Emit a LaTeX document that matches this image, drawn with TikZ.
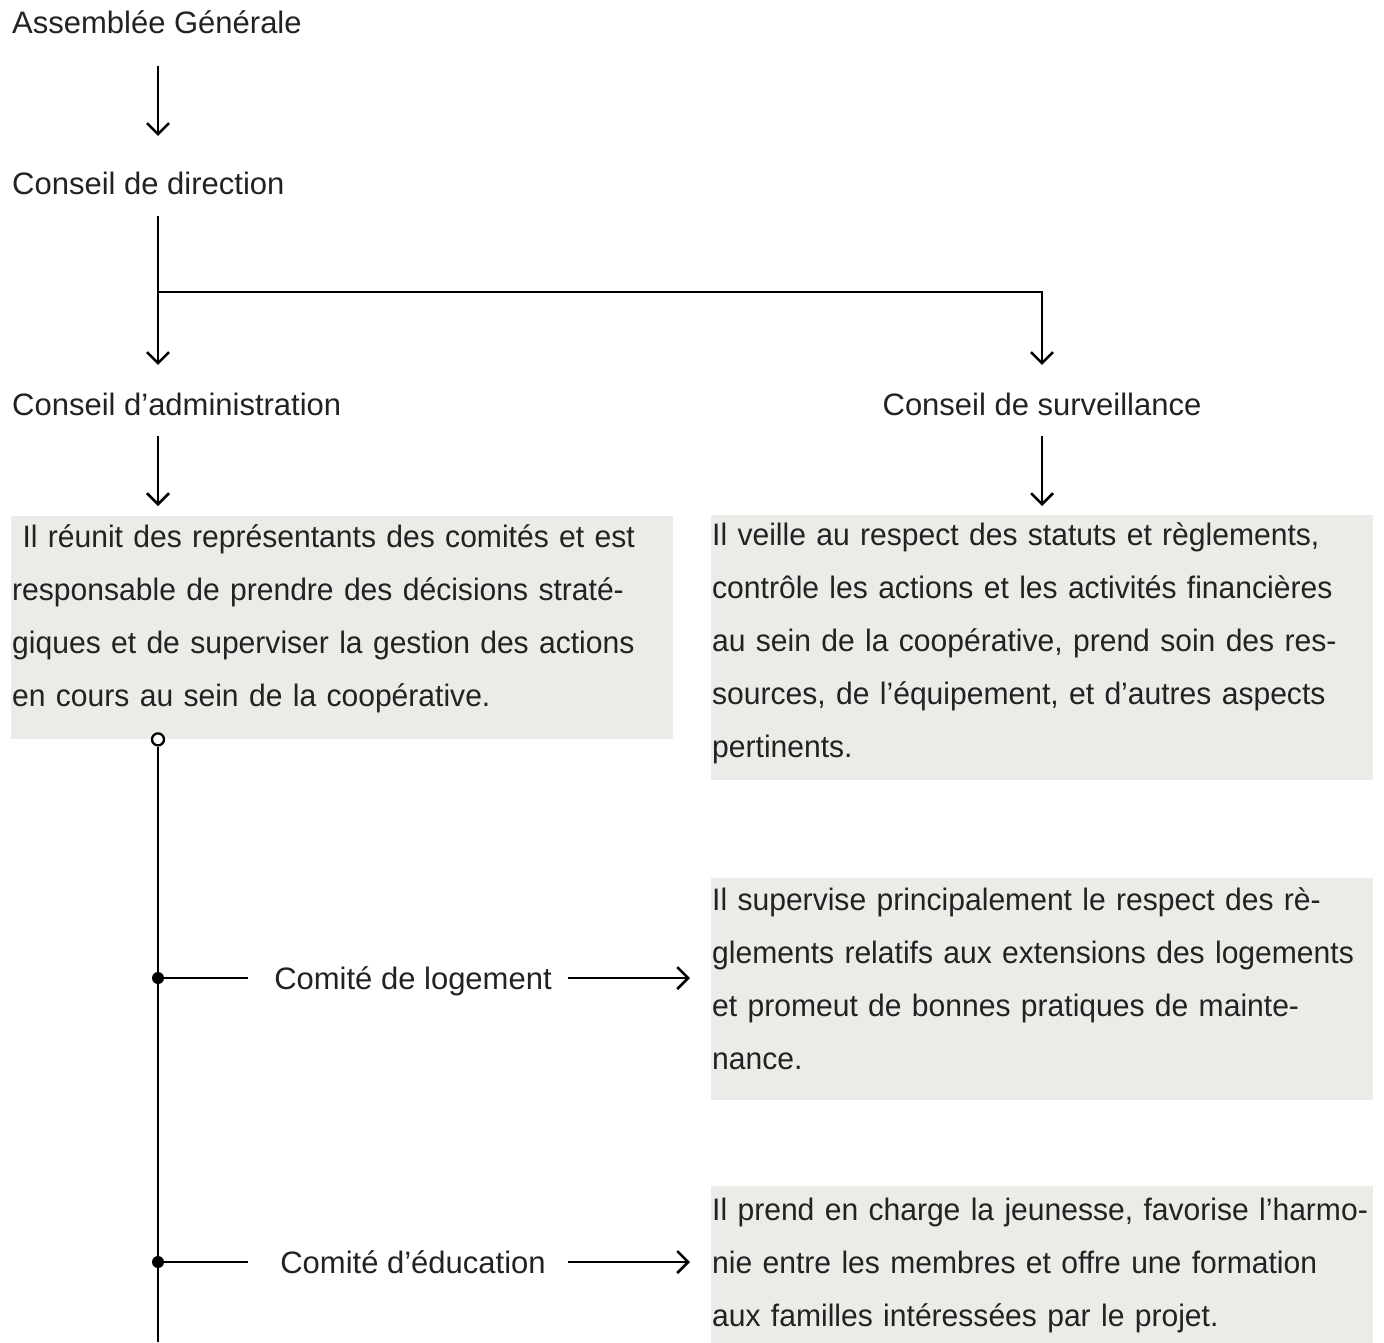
\documentclass[tikz,border=0pt]{standalone}
\usepackage{fontspec}
\setmainfont{Liberation Sans}
\newfontfamily\descfont{Liberation Sans}[FakeStretch=0.97]
\usetikzlibrary{arrows.meta,calc}
\definecolor{boxgray}{HTML}{EBECE8}
\definecolor{inkgray}{HTML}{222222}

\begin{document}
\begin{tikzpicture}[x=1pt,y=-1pt,
  orgtext/.style={inner sep=0pt, text height=22pt, text depth=7pt, text=inkgray,
    font=\fontsize{31}{53}\selectfont},
  descbox/.style={fill=boxgray, anchor=north west, inner xsep=1pt, inner ysep=0pt,
    text width=660pt, align=left, text=inkgray, font=\descfont\fontsize{31}{53}\selectfont},
  wire/.style={line width=2.5pt, black},
  wirearrow/.style={wire, -{Straight Barb[length=11pt,width=22pt]}},
  hollow/.style={circle, draw=black, fill=white, line width=2.3pt, inner sep=0pt, minimum size=12pt},
  joint/.style={circle, fill=black, inner sep=0pt, minimum size=12pt}]
\useasboundingbox (0,0) rectangle (1384,1342);
% Spine of the chart
\coordinate (spine) at (158,0);
\coordinate (fork) at (158,292);
\coordinate (spineEnd) at (158,1342);
% Bodies
\node[orgtext, anchor=base west] (ag) at (12,33) {Assemblée Générale};
\node[orgtext, anchor=base west] (cd) at (12,194) {Conseil de direction};
\node[orgtext, anchor=base west] (ca) at (12,415) {Conseil d’administration};
\node[orgtext, anchor=base] (cs) at (1042,415) {Conseil de surveillance};
% Description boxes
\node[descbox] (boxA) at (11,516) {\rule{0pt}{31pt}\ Il réunit des représentants des comités et est\\
responsable de prendre des décisions straté-\\
giques et de superviser la gestion des actions\\
en cours au sein de la coopérative.\rule[-33pt]{0pt}{33pt}};
\node[descbox] (boxS) at (711,515) {\rule{0pt}{30pt}Il veille au respect des statuts et règlements,\\
contrôle les actions et les activités financières\\
au sein de la coopérative, prend soin des res-\\
sources, de l’équipement, et d’autres aspects\\
pertinents.\rule[-23pt]{0pt}{23pt}};
\node[descbox] (boxL) at (711,878) {\rule{0pt}{32pt}Il supervise principalement le respect des rè-\\
glements relatifs aux extensions des logements\\
et promeut de bonnes pratiques de mainte-\\
nance.\rule[-31pt]{0pt}{31pt}};
\node[descbox] (boxE) at (711,1186) {\rule{0pt}{34pt}Il prend en charge la jeunesse, favorise l’harmo-\\
nie entre les membres et offre une formation\\
aux familles intéressées par le projet.\rule[-20pt]{0pt}{20pt}};
% Committees
\node[orgtext, anchor=base] (cl) at (413,989) {Comité de logement};
\node[orgtext, anchor=base] (ce) at (413,1273) {Comité d’éducation};
% Top arrows
\draw[wirearrow, shorten <=26pt, shorten >=36pt] (ag.south -| spine) -- (cd.north -| spine);
\draw[wire, shorten <=15pt] (cd.south -| fork) -- (fork);
\draw[wirearrow, shorten >=28pt] (fork) -- (ca.north -| fork);
\draw[wirearrow, shorten >=28pt] (fork) -| (cs.north);
\draw[wirearrow, shorten <=14pt, shorten >=10pt] (ca.south -| spine) -- (boxA.north -| spine);
\draw[wirearrow, shorten <=14pt, shorten >=9pt] (cs.south) -- (boxS.north -| cs);
% Committee line
\node[hollow] (ring) at (boxA.south -| spine) {};
\draw[wire] (ring) -- (spineEnd);
\node[joint] (dotL) at (158,978) {};
\node[joint] (dotE) at (158,1262) {};
\draw[wire, shorten >=463pt] (dotL.center) -- (boxL.west |- dotL);
\draw[wirearrow, shorten <=410pt, shorten >=21pt] (dotL.center) -- (boxL.west |- dotL);
\draw[wire, shorten >=463pt] (dotE.center) -- (boxE.west |- dotE);
\draw[wirearrow, shorten <=410pt, shorten >=21pt] (dotE.center) -- (boxE.west |- dotE);
\end{tikzpicture}
\end{document}
